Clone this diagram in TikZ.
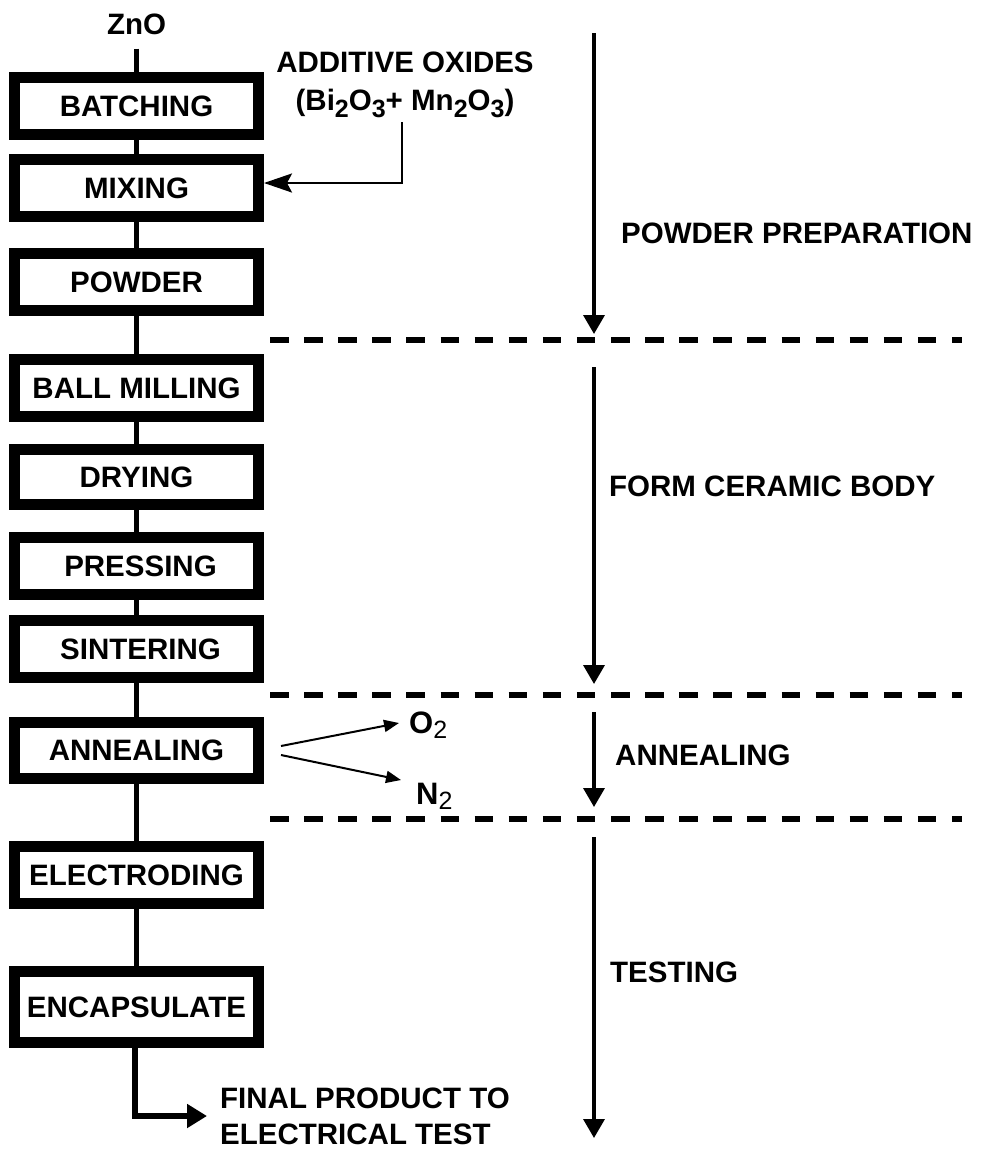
\documentclass[tikz,border=0pt]{standalone}
\usepackage{fontspec}
\setmainfont{Liberation Sans}
\usetikzlibrary{arrows.meta}

% label font and lowered indices for the chemical formulas
\newcommand\lbl{\fontsize{29.5}{36}\selectfont\bfseries}
\newcommand\lowidx[1]{\raisebox{-7pt}{\fontsize{25}{25}\selectfont #1}}
\newcommand\gasidx[1]{\raisebox{-5pt}{\fontsize{25}{25}\selectfont\mdseries #1}}

\tikzset{
  stepbox/.style={draw=black, line width=11pt, fill=white,
    minimum width=244pt, minimum height=57pt, inner sep=0pt, font=\lbl},
  txt/.style={font=\lbl, inner sep=0pt},
  link/.style={line width=5pt},
  phase/.style={line width=3.5pt, -{Triangle[length=19pt,width=21pt]}},
  divider/.style={line width=6pt, dash pattern=on 18.5pt off 15.6pt},
  feed/.style={line width=2.5pt, -{Stealth[length=28pt,width=19pt,inset=5pt]}},
  gas/.style={line width=2pt, -{Triangle[length=15pt,width=12pt]}},
  outarrow/.style={line width=6pt, -{Triangle[length=20pt,width=23pt]}}
}

\begin{document}
\begin{tikzpicture}[x=1pt, y=-1pt]
  \fill[white] (0,0) rectangle (987,1149);
  \useasboundingbox (0,0) rectangle (987,1149);

  % process steps
  \node[txt] (zno) at (136.5,24) {ZnO};
  \node[stepbox] (batching) at (136.5,106) {BATCHING};
  \node[stepbox] (mixing) at (136.5,188) {MIXING};
  \node[stepbox] (powder) at (136.5,282) {POWDER};
  \node[stepbox] (ballmill) at (136.5,388) {BALL MILLING};
  \node[stepbox, minimum height=55pt] (drying) at (136.5,477) {DRYING};
  \node[stepbox] (pressing) at (136.5,566) {\hspace*{8pt}PRESSING};
  \node[stepbox] (sintering) at (136.5,649) {\hspace*{8pt}SINTERING};
  \node[stepbox, minimum height=56pt] (annealing) at (136.5,750.5) {ANNEALING};
  \node[stepbox] (electroding) at (136.5,875) {ELECTRODING};
  \node[stepbox, minimum height=71pt] (encapsulate) at (136.5,1007) {ENCAPSULATE};

  % main flow
  \draw[link, shorten <=14pt] (zno.south) -- (batching.north);
  \draw[link] (batching) -- (mixing);
  \draw[link] (mixing) -- (powder);
  \draw[link] (powder) -- (ballmill);
  \draw[link] (ballmill) -- (drying);
  \draw[link] (drying) -- (pressing);
  \draw[link] (pressing) -- (sintering);
  \draw[link] (sintering) -- (annealing);
  \draw[link] (annealing) -- (electroding);
  \draw[link] (electroding) -- (encapsulate);

  % additives fed into mixing
  \node[txt] (additive) at (405,62) {ADDITIVE OXIDES};
  \node[txt, anchor=base] (formula) at (405,110)
    {(Bi\lowidx{2}O\lowidx{3}+ Mn\lowidx{2}O\lowidx{3})};
  \coordinate (feedtop) at (402,122);
  \draw[feed] (feedtop) |- ([shift={(0,-5)}]mixing.east);

  % annealing atmospheres
  \node[txt, anchor=base west, font=\fontsize{31}{36}\selectfont\bfseries] (otwo) at (409,733) {O\gasidx{2}};
  \node[txt, anchor=base west, font=\fontsize{31}{36}\selectfont\bfseries] (ntwo) at (416,804) {N\gasidx{2}};
  \coordinate (otip) at (399,723);
  \coordinate (ntip) at (401,780);
  \draw[gas] ([shift={(17,-4.5)}]annealing.east) -- (otip);
  \draw[gas] ([shift={(17,4.5)}]annealing.east) -- (ntip);

  % final product
  \node[txt, anchor=west, align=left] (final) at (220,1116)
    {FINAL PRODUCT TO\\ELECTRICAL TEST};
  \draw[outarrow, shorten >=13pt] ([xshift=-1.5pt]encapsulate.south) |- (final.west);

  % stage dividers
  \draw[divider] (270,340) -- (962,340);
  \draw[divider] (270,695) -- (962,695);
  \draw[divider] (270,819) -- (962,819);

  % stage arrows and names
  \coordinate (s1a) at (594,33);   \coordinate (s1b) at (594,334);
  \coordinate (s2a) at (594,367);  \coordinate (s2b) at (594,684);
  \coordinate (s3a) at (594,712);  \coordinate (s3b) at (594,807);
  \coordinate (s4a) at (594,837);  \coordinate (s4b) at (594,1138);
  \draw[phase] (s1a) -- (s1b);
  \draw[phase] (s2a) -- (s2b);
  \draw[phase] (s3a) -- (s3b);
  \draw[phase] (s4a) -- (s4b);
  \node[txt, anchor=west] (stage1) at (621,233) {POWDER PREPARATION};
  \node[txt, anchor=west] (stage2) at (609,486) {FORM CERAMIC BODY};
  \node[txt, anchor=west] (stage3) at (615,755) {ANNEALING};
  \node[txt, anchor=west] (stage4) at (610,972) {TESTING};
\end{tikzpicture}
\end{document}
